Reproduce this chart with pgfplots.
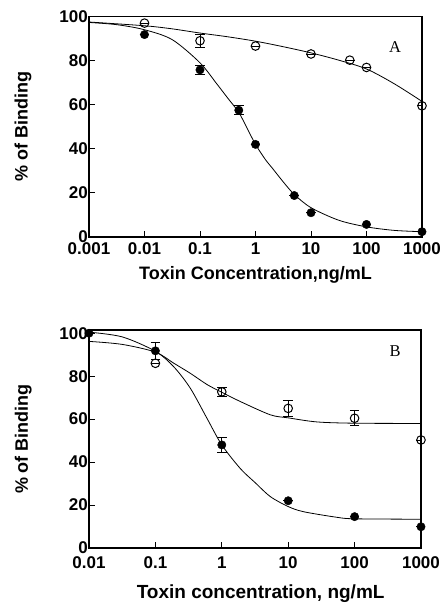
\documentclass[border=0pt]{standalone}
\usepackage{fontspec}
\setmainfont{Liberation Sans}
\newfontfamily\panelfont{Liberation Serif}
\usepackage{pgfplots}
\pgfplotsset{compat=1.18}

\pgfplotsset{
  mycurve/.style={black, line width=0.8pt, smooth, no markers},
  myerr/.style={
    error bars/y dir=both, error bars/y explicit,
    error bars/error bar style={line width=0.8pt},
    error bars/error mark options={rotate=90, mark size=4.8pt, line width=0.8pt}},
  myfilled/.style={only marks, mark=*, mark size=4.2pt, black, myerr},
  myopen/.style={only marks, mark=o, mark size=4.3pt, black,
    mark options={fill=white, line width=1pt}, myerr},
}

\begin{document}
\begin{tikzpicture}
\useasboundingbox (0pt,0pt) rectangle (443pt,606pt);

% panel A
\begin{axis}[xmode=log, scale only axis,
  at={(89pt,369pt)}, anchor=south west,
  width=333pt, height=220.5pt,
  axis line style={line width=1.1pt},
  xtick pos=bottom, ytick pos=left, tick align=inside,
  major tick length=6pt, xminorticks=false,
  tick style={line width=0.9pt, black},
  xmin=0.001, xmax=1000, ymin=0, ymax=100,
  xtick={0.001,0.01,0.1,1,10,100,1000},
  xticklabels={0.001,0.01,0.1,1,10,100,1000},
  ytick={0,20,40,60,80,100}, yticklabels={0,20,40,60,80,100},
  ticklabel style={font=\fontsize{17}{17}\selectfont\bfseries},
  yticklabel style={inner sep=0pt, xshift=-1pt},
  xticklabel style={inner sep=0pt, yshift=-5.5pt},
  label style={font=\fontsize{18}{18}\selectfont\bfseries, inner sep=0pt},
  xlabel={Toxin Concentration,ng/mL},
  xlabel style={at={(axis description cs:0.5,0)}, anchor=north, yshift=-29pt},
  ylabel={\% of Binding},
  ylabel style={at={(axis description cs:-0.198,0.5)}, anchor=center}]
\addplot[mycurve] coordinates {
  (0.001,97.3) (0.00316,96.3) (0.01,94) (0.0316,89.5) (0.1,79) (0.2,69.5)
  (0.316,63) (0.5,56.5) (0.7,49.5) (1,42) (1.5,35.2) (2,31.3) (3.16,25)
  (5,19.3) (10,13.3) (31.6,7.6) (100,4.6) (316,3) (1000,2.4)};
\addplot[mycurve] coordinates {
  (0.001,97.5) (0.01,95.8) (0.0316,94.4) (0.1,92.5) (0.316,90.8) (1,88.8)
  (3.16,86.3) (10,83.5) (31.6,80.2) (100,76.2) (316,69.5) (1000,61.5)};
\addplot[myfilled] table[y error=e] {
x     y     e
0.01  91.8  0
0.1   75.8  2
0.5   57.5  2
1     42.0  0
5     18.8  0
10    11.0  0
100   5.7   0
1000  2.4   0
};
\addplot[myopen] table[y error=e] {
x     y     e
0.01  97.0  0
0.1   89.0  2.9
1     86.6  0
10    83.0  0
50    80.2  0
100   76.9  0
1000  59.5  0
};
\node[font=\panelfont\fontsize{16.5}{16.5}\selectfont] at (rel axis cs:0.919,0.862) {A};
\end{axis}

% panel B
\begin{axis}[xmode=log, scale only axis,
  at={(89pt,58pt)}, anchor=south west,
  width=332pt, height=218pt,
  axis line style={line width=1.1pt},
  xtick pos=bottom, ytick pos=left, tick align=inside,
  major tick length=6pt, xminorticks=false,
  tick style={line width=0.9pt, black},
  xmin=0.01, xmax=1000, ymin=0, ymax=101.5,
  xtick={0.01,0.1,1,10,100,1000},
  xticklabels={0.01,0.1,1,10,100,1000},
  ytick={0,20,40,60,80,100}, yticklabels={0,20,40,60,80,100},
  ticklabel style={font=\fontsize{17}{17}\selectfont\bfseries},
  yticklabel style={inner sep=0pt, xshift=-1pt},
  xticklabel style={inner sep=0pt, yshift=-8.5pt},
  label style={font=\fontsize{18}{18}\selectfont\bfseries, inner sep=0pt},
  xlabel={Toxin concentration, ng/mL},
  xlabel style={at={(axis description cs:0.517,0)}, anchor=north, yshift=-37pt,
    font=\fontsize{19}{19}\selectfont\bfseries},
  ylabel={\% of Binding},
  ylabel style={at={(axis description cs:-0.198,0.5)}, anchor=center}]
\addplot[mycurve] coordinates {
  (0.01,100.5) (0.0316,98.3) (0.1,91.6) (0.19,84.3) (0.337,74.3) (0.6,60.3)
  (1,48) (1.9,37) (3.16,30.5) (5.4,23.9) (10,19.3) (17,16.9) (54,14.3)
  (100,13.6) (1000,13.4)};
\addplot[mycurve] coordinates {
  (0.01,96.2) (0.0316,94.8) (0.1,91.2) (0.19,86) (0.337,81.3) (0.6,76.1)
  (1,72.5) (1.9,68.2) (5.4,62) (10,60.6) (27,58.7) (100,58.1) (1000,58)};
\addplot[myopen] table[y error=e] {
x     y     e
0.1   86.0  0
1     72.7  2.3
10    65.0  3.5
100   60.4  3.5
1000  50.3  0
};
\addplot[myfilled] table[y error=e] {
x     y     e
0.01  100   0
0.1   91.8  3.9
1     48.0  3.5
10    22.0  0
100   14.6  0
1000  9.9   0
};
\node[font=\panelfont\fontsize{16.5}{16.5}\selectfont] at (rel axis cs:0.922,0.905) {B};
\end{axis}
\end{tikzpicture}
\end{document}
